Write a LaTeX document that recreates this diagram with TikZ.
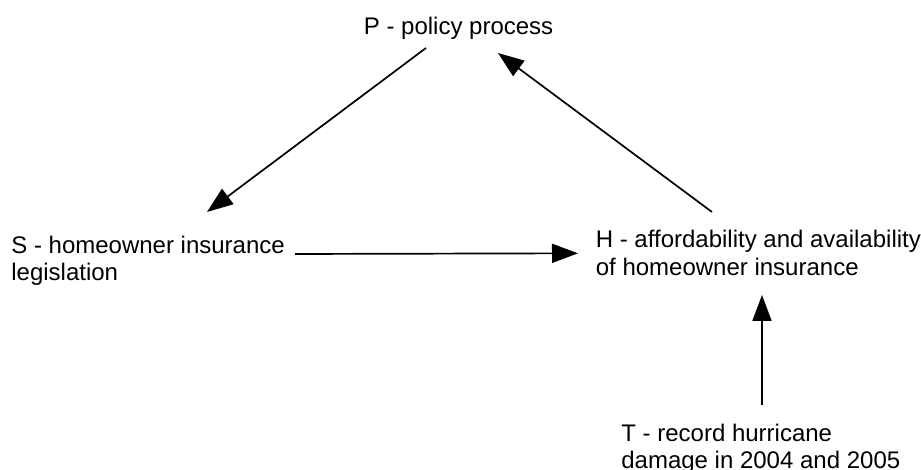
\documentclass[tikz,border=0pt]{standalone}
\usepackage{fontspec}
\setmainfont{Liberation Sans}
\usepackage{tikz}
\usetikzlibrary{arrows.meta,positioning}

\begin{document}
\begin{tikzpicture}[x=1pt, y=1pt, ->, >={Triangle[length=26pt,width=19pt]}, line width=1.7pt, factor/.style={anchor=north west, inner sep=0pt, align=left, font=\fontsize{24}{27.5}\selectfont}]
    \useasboundingbox (0,0) rectangle (921,470);
    \node[factor] (P) at (363,454) {P - policy process};
    \node[factor] (S) at (10.5,235) {S - homeowner insurance\\legislation};
    \node[factor] (H) at (595,240.7) {H - affordability and availability\\of homeowner insurance};
    \node[factor] (T) at (620.5,47) {T - record hurricane\\damage in 2004 and 2005};

    \path
        ([shift={(63,-32)}]P.north west) edge ([shift={(196.5,23)}]S.north west)
        ([shift={(284.5,-19)}]S.north west) edge ([shift={(-17,-24)}]H.north west)
        ([shift={(117,17.3)}]H.north west) edge ([shift={(135,-37)}]P.north west)
        ([shift={(141.5,18)}]T.north west) edge ([shift={(167,-65.7)}]H.north west);
\end{tikzpicture}
\end{document}
